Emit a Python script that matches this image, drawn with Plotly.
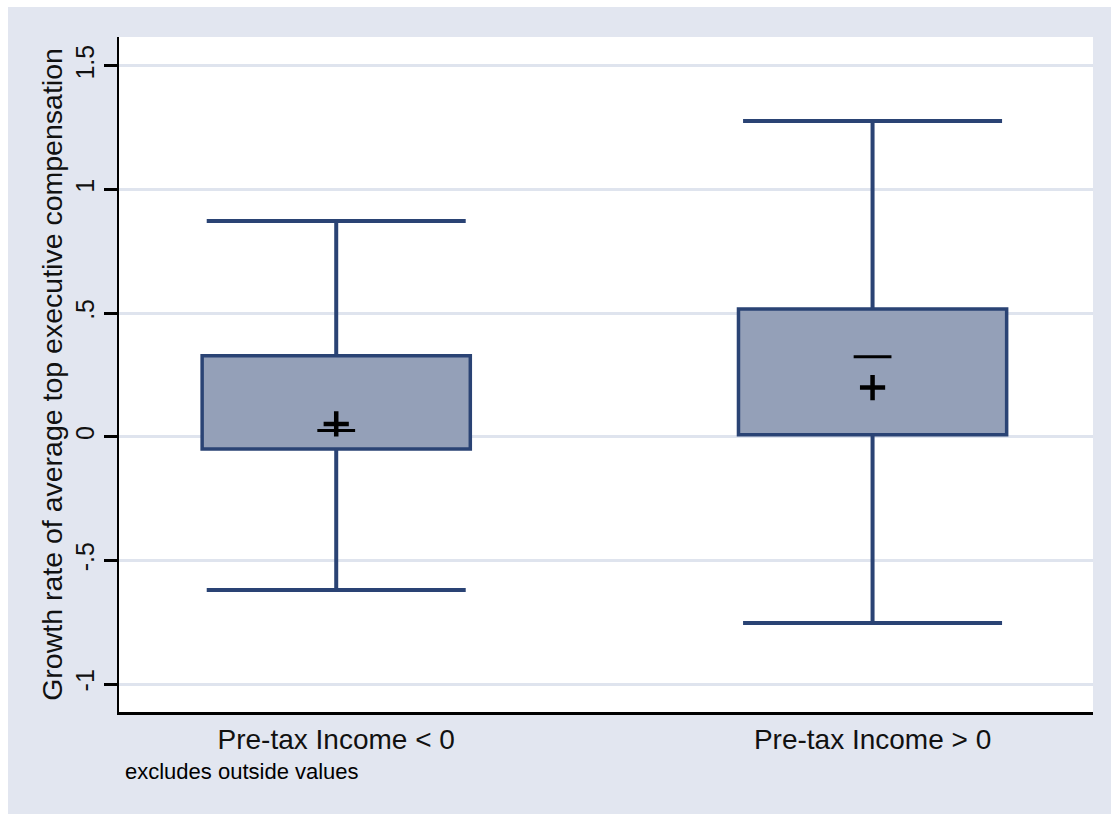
import plotly.graph_objects as go

# ---- data ----
categories = ["Pre-tax Income < 0", "Pre-tax Income > 0"]
lower_adj = [-0.62, -0.753]
q1 = [-0.049, 0.008]
median = [0.026, 0.324]
mean = [0.052, 0.199]
q3 = [0.328, 0.517]
upper_adj = [0.873, 1.277]

ytick_vals = [-1, -0.5, 0, 0.5, 1, 1.5]
ytick_text = ["-1", "-.5", "0", ".5", "1", "1.5"]

y_title = "Growth rate of average top executive compensation"
note_text = "excludes outside values"

# ---- styles ----
BAND = "#e2e6f0"
FILL = "#94a0b8"
NAVY = "#2a4374"
GRID = "#dfe4ee"
FONT = "Liberation Sans, Arial, sans-serif"

fig = go.Figure()

# boxes (q1..q3)
fig.add_trace(go.Bar(
    x=categories,
    y=[b - a for a, b in zip(q1, q3)],
    base=q1,
    width=0.5,
    marker=dict(color=FILL, line=dict(color=NAVY, width=3.5)),
    hoverinfo="skip",
    showlegend=False,
))

# whisker stems
wx, wy = [], []
for c, lo, a, b, hi in zip(categories, lower_adj, q1, q3, upper_adj):
    wx += [c, c, None, c, c, None]
    wy += [b, hi, None, a, lo, None]
fig.add_trace(go.Scatter(
    x=wx, y=wy, mode="lines",
    line=dict(color=NAVY, width=4),
    hoverinfo="skip", showlegend=False,
))

# whisker caps
fig.add_trace(go.Scatter(
    x=categories + categories,
    y=upper_adj + lower_adj,
    mode="markers",
    marker=dict(symbol="line-ew", size=185, color=NAVY,
                line=dict(color=NAVY, width=4)),
    hoverinfo="skip", showlegend=False,
))

# median dash
fig.add_trace(go.Scatter(
    x=categories, y=median, mode="markers",
    marker=dict(symbol="line-ew", size=27, color="black",
                line=dict(color="black", width=3)),
    hoverinfo="skip", showlegend=False,
))

# mean cross
fig.add_trace(go.Scatter(
    x=categories, y=mean, mode="markers",
    marker=dict(symbol="cross-thin", size=18, color="black",
                line=dict(color="black", width=4.5)),
    hoverinfo="skip", showlegend=False,
))

fig.add_annotation(
    text=note_text, xref="paper", yref="paper",
    x=(123 - 119) / 974, y=-(772 - 712) / 675,
    xanchor="left", yanchor="middle", showarrow=False,
    font=dict(family=FONT, size=22, color="black"),
)

# white strips at the top and left of the page
fig.add_shape(type="rect", xref="paper", yref="paper", layer="below",
              x0=-0.2, x1=1.2, y0=(712 - 7) / 675, y1=1.2,
              fillcolor="white", line=dict(width=0))
fig.add_shape(type="rect", xref="paper", yref="paper", layer="below",
              x0=-0.2, x1=-(119 - 8) / 974, y0=-0.3, y1=1.2,
              fillcolor="white", line=dict(width=0))

fig.update_layout(
    width=1111, height=814,
    margin=dict(l=119, r=18, t=37, b=102),
    paper_bgcolor=BAND, plot_bgcolor="white",
    font=dict(family=FONT, color="black"),
    showlegend=False,
    xaxis=dict(
        type="category", categoryorder="array", categoryarray=categories,
        range=[-0.405, 1.411],
        showgrid=False, zeroline=False,
        showline=True, linecolor="black", linewidth=3,
        ticks="", tickfont=dict(size=28, family=FONT, color="#111"),
    ),
    yaxis=dict(
        range=[-1.113, 1.617],
        tickvals=ytick_vals, ticktext=ytick_text,
        tickangle=-90,
        showgrid=True, gridcolor=GRID, gridwidth=3,
        zeroline=False,
        showline=True, linecolor="black", linewidth=2,
        ticks="outside", ticklen=13, tickwidth=3, tickcolor="black",
        tickfont=dict(size=25, family=FONT, color="#111"),
        title=dict(text=y_title, font=dict(size=28.5, family=FONT, color="#111"),
                   standoff=0),
    ),
)

fig.write_html("out.html")
